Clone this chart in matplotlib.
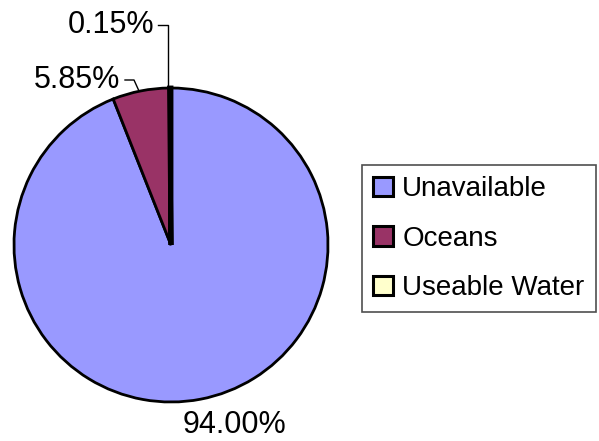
import matplotlib
matplotlib.use("Agg")
import matplotlib.pyplot as plt

plt.rcParams['font.family'] = ['Liberation Sans', 'DejaVu Sans']

# data
labels = ['Unavailable', 'Oceans', 'Useable Water']
shares = [94.00, 5.85, 0.15]
colors = ['#9999FF', '#993366', '#FFFFCC']

W, H = 599, 441
fig = plt.figure(figsize=(W / 100, H / 100), dpi=100)
ax = fig.add_axes([0, 0, 1, 1])

cx, cy, r = 171, H - 245, 157
wedges, _ = ax.pie(shares, colors=colors, startangle=90, counterclock=False,
                   center=(cx, cy), radius=r,
                   wedgeprops=dict(edgecolor='black', linewidth=2))
# the thin sliver shows as a heavy black stroke in the original
wedges[2].set_linewidth(3.5)
ax.set_xlim(0, W)
ax.set_ylim(0, H)
ax.set_aspect('equal')
ax.axis('off')

txt = [f"{v:.2f}%" for v in shares]
fs = 22

# 94.00% below the pie
ax.text(234, H - 433, txt[0], fontsize=fs, ha='center', va='baseline')

# 5.85% with leader
ax.text(120, H - 88, txt[1], fontsize=fs, ha='right', va='baseline')
ax.plot([125, 134, 139], [H - 80, H - 80, H - 91], color='black', lw=1)

# 0.15% with leader
ax.text(154, H - 33, txt[2], fontsize=fs, ha='right', va='baseline')
ax.plot([158, 168, 168], [H - 25, H - 25, H - 88], color='black', lw=1)

leg = fig.legend(wedges, labels, loc='upper left',
                 bbox_to_anchor=(362 / W, 1 - 165 / H),
                 fontsize=20, frameon=True, fancybox=False,
                 edgecolor='#222222', borderpad=0.4,
                 handlelength=0.7, handleheight=0.7,
                 handletextpad=0.35, labelspacing=0.85,
                 borderaxespad=0)
leg.get_frame().set_linewidth(1.2)
for h in leg.legend_handles:
    h.set_linewidth(2.2)

fig.savefig('out.png', dpi=100)
